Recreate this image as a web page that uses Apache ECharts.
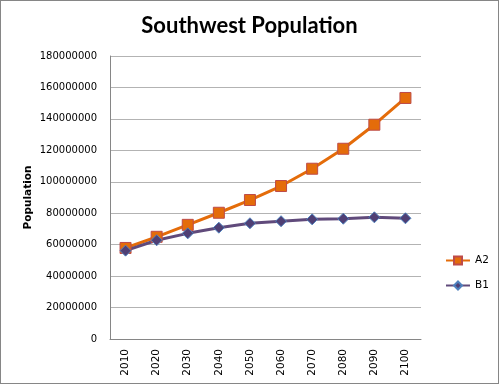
<!DOCTYPE html>
<html>
<head>
<meta charset="utf-8">
<script src="https://cdn.jsdelivr.net/npm/echarts@6/dist/echarts.min.js"></script>
<style>
html,body{margin:0;padding:0;background:#fff;}
#wrap{position:absolute;left:0;top:0;width:497px;height:382px;border:1px solid #868686;}
#chart{width:499px;height:385px;position:absolute;left:0;top:0;}
</style>
</head>
<body>
<div id="wrap"></div>
<div id="chart"></div>
<script>
const categories = ['2010','2020','2030','2040','2050','2060','2070','2080','2090','2100'];
const seriesA2 = [57900000, 65000000, 72600000, 80300000, 88400000, 97300000, 108300000, 121000000, 136300000, 153300000];
const seriesB1 = [56200000, 62800000, 67200000, 70800000, 73600000, 74900000, 76100000, 76500000, 77400000, 76800000];
const yTicks = {min: 0, max: 180000000, interval: 20000000};

const chart = echarts.init(document.getElementById('chart'), null, {renderer: 'canvas'});
chart.setOption({
  animation: false,
  backgroundColor: 'transparent',
  title: {
    text: 'Southwest Population',
    left: 'center',
    top: 10,
    textStyle: {fontFamily: 'Lato', fontWeight: 'bold', fontSize: 22, color: '#000'}
  },
  legend: {
    orient: 'vertical',
    left: 440,
    top: 250,
    itemGap: 14,
    itemWidth: 24,
    itemHeight: 10,
    textStyle: {fontFamily: 'DejaVu Sans', fontSize: 10.5, color: '#000'},
    data: ['A2', 'B1']
  },
  grid: {left: 110, right: 78, top: 56, bottom: 46},
  xAxis: {
    type: 'category',
    data: categories,
    boundaryGap: true,
    axisLine: {lineStyle: {color: '#868686', width: 1}},
    axisTick: {show: false},
    axisLabel: {rotate: 90, fontFamily: 'DejaVu Sans', fontSize: 10.5, color: '#000', margin: 10}
  },
  yAxis: {
    type: 'value',
    min: yTicks.min,
    max: yTicks.max,
    interval: yTicks.interval,
    name: 'Population',
    nameLocation: 'middle',
    nameGap: 76,
    nameMoveOverlap: false,
    nameTextStyle: {fontFamily: 'DejaVu Sans', fontWeight: 'bold', fontSize: 10.5, color: '#000'},
    axisLine: {show: true, lineStyle: {color: '#868686', width: 1}},
    axisTick: {show: false},
    splitLine: {lineStyle: {color: '#b3b3b3', width: 1}},
    axisLabel: {fontFamily: 'DejaVu Sans', fontSize: 10, color: '#000', margin: 13, formatter: function (v) { return String(v); }}
  },
  series: [
    {
      name: 'A2',
      type: 'line',
      data: seriesA2,
      symbol: 'rect',
      symbolSize: 11,
      lineStyle: {color: '#E46C0A', width: 3},
      itemStyle: {color: '#E46C0A', borderColor: '#BE4B48', borderWidth: 1}
    },
    {
      name: 'B1',
      type: 'line',
      data: seriesB1,
      symbol: 'diamond',
      symbolSize: 11,
      lineStyle: {color: '#604A7B', width: 3},
      itemStyle: {color: '#4F3F74', borderColor: '#4F81BD', borderWidth: 1}
    }
  ]
});
</script>
</body>
</html>
